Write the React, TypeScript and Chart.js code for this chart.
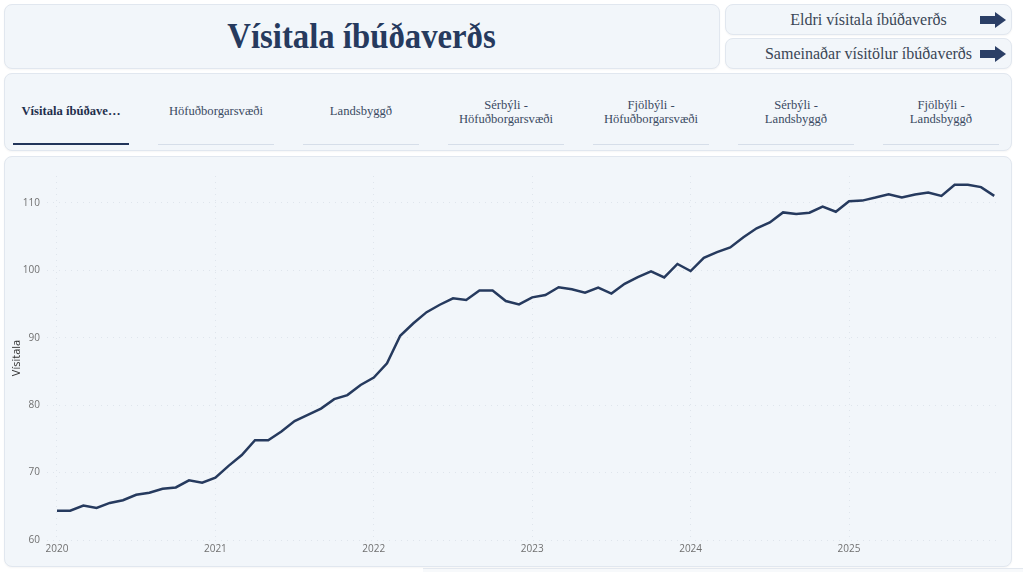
import React, { useEffect, useRef } from "react";
import { Chart, registerables } from "chart.js";

Chart.register(...registerables);

const startYear = 2020;
const values = [
  64.35, 64.35, 65.1, 64.75, 65.5, 65.9, 66.7, 67.0, 67.6, 67.8, 68.85, 68.5,
  69.25, 71.0, 72.6, 74.8, 74.8, 76.1, 77.65, 78.55, 79.5, 80.9, 81.5, 83.0,
  84.1, 86.2, 90.3, 92.15, 93.8, 94.9, 95.85, 95.6, 97.0, 97.0, 95.45, 94.95,
  96.0, 96.35, 97.5, 97.2, 96.7, 97.45, 96.55, 98.0, 99.0, 99.85, 98.95, 100.95,
  99.9, 101.85, 102.7, 103.4, 104.9, 106.25, 107.1, 108.6, 108.35, 108.55, 109.45, 108.7,
  110.25, 110.35, 110.8, 111.3, 110.8, 111.25, 111.55, 111.05, 112.7, 112.7, 112.35, 111.05,
];
const xTickYears = [2020, 2021, 2022, 2023, 2024, 2025];
const yTickValues = [60, 70, 80, 90, 100, 110];
const yAxisTitle = "Vísitala";
const pageTitle = "Vísitala íbúðaverðs";
const buttons = ["Eldri vísitala íbúðaverðs", "Sameinaðar vísitölur íbúðaverðs"];
const tabs = [
  ["Vísitala íbúðave…"],
  ["Höfuðborgarsvæði"],
  ["Landsbyggð"],
  ["Sérbýli -", "Höfuðborgarsvæði"],
  ["Fjölbýli -", "Höfuðborgarsvæði"],
  ["Sérbýli -", "Landsbyggð"],
  ["Fjölbýli -", "Landsbyggð"],
];

const NAVY = "#263a5e";
const PANEL_BG = "#f2f6fa";
const PANEL_BORDER = "#e1e7ef";
const SERIF = "'Liberation Serif', 'Times New Roman', serif";

const panel: React.CSSProperties = {
  position: "absolute",
  background: PANEL_BG,
  border: `1px solid ${PANEL_BORDER}`,
  borderRadius: 8,
  boxSizing: "border-box",
  boxShadow: "0 1px 2px rgba(0,0,0,0.04)",
};

function Arrow() {
  return (
    <svg width="26" height="16" viewBox="0 0 26 16" style={{ position: "absolute", right: 5, top: "50%", marginTop: -8 }}>
      <path d="M0 4 H15 V0 L26 8 L15 16 V12 H0 Z" fill="#2b3f66" />
    </svg>
  );
}

function LineChart() {
  const ref = useRef<HTMLCanvasElement | null>(null);
  useEffect(() => {
    if (!ref.current) return;
    const points = values.map((v, i) => ({ x: startYear + i / 12, y: v }));
    const gridColor = "rgba(195,204,216,0.4)";
    const chart = new Chart(ref.current, {
      type: "line",
      data: {
        datasets: [
          {
            data: points,
            borderColor: NAVY,
            borderWidth: 2.5,
            pointRadius: 0,
            tension: 0,
            fill: false,
          },
        ],
      },
      options: {
        animation: false,
        responsive: true,
        maintainAspectRatio: false,
        layout: { padding: { top: 20, right: 11, bottom: 0, left: 0 } },
        plugins: { legend: { display: false }, tooltip: { enabled: false } },
        scales: {
          x: {
            type: "linear",
            min: 2019.937,
            max: 2025.953,
            afterBuildTicks: (s: any) => {
              s.ticks = xTickYears.map((v) => ({ value: v }));
            },
            afterFit: (s: any) => {
              s.height = 26;
            },
            ticks: {
              padding: 3,
              color: "#707070",
              font: { family: "'Open Sans'", size: 10 },
              maxRotation: 0,
              callback: (v: any) => String(v),
            },
            grid: { color: gridColor, drawTicks: false, lineWidth: 1 },
            border: { display: false, dash: [1, 5] },
          },
          y: {
            type: "linear",
            min: 60,
            max: 114,
            afterBuildTicks: (s: any) => {
              s.ticks = yTickValues.map((v) => ({ value: v }));
            },
            afterFit: (s: any) => {
              s.width = 43;
            },
            title: {
              display: true,
              text: yAxisTitle,
              color: "#333",
              font: { family: "'Open Sans'", size: 11 },
              padding: { top: 6, bottom: 0 },
            },
            ticks: {
              padding: 7,
              color: "#707070",
              font: { family: "'Open Sans'", size: 10 },
            },
            grid: { color: gridColor, drawTicks: false, lineWidth: 1 },
            border: { display: false, dash: [1, 5] },
          },
        },
      },
    });
    return () => chart.destroy();
  }, []);
  return <canvas ref={ref} />;
}

export default function App() {
  return (
    <div
      style={{
        position: "absolute",
        left: 0,
        top: 0,
        width: 1024,
        height: 572,
        overflow: "hidden",
        background: "#ffffff",
        fontFamily: SERIF,
      }}
    >
      {/* Title box */}
      <div style={{ ...panel, left: 4, top: 4, width: 716, height: 65, display: "flex", alignItems: "center", justifyContent: "center" }}>
        <div style={{ fontSize: 36, fontWeight: 700, color: NAVY, marginLeft: 0, marginTop: -2, transform: "scaleX(0.91)" }}>{pageTitle}</div>
      </div>

      {/* Buttons */}
      {buttons.map((b, i) => (
        <div
          key={b}
          style={{
            ...panel,
            left: 725,
            top: i === 0 ? 4 : 38,
            width: 287,
            height: 31,
            display: "flex",
            alignItems: "center",
            justifyContent: "center",
            color: "#3a4656",
            fontSize: 16,
          }}
        >
          <span>{b}</span>
          <Arrow />
        </div>
      ))}

      {/* Tabs */}
      <div style={{ ...panel, left: 4, top: 73, width: 1008, height: 78 }}>
        {tabs.map((t, i) => {
          const active = i === 0;
          const cx = 70 + i * 145 - 4;
          return (
            <div key={i} style={{ position: "absolute", left: cx - 58, top: 0, width: 116, height: 76 }}>
              <div
                style={{
                  position: "absolute",
                  left: -20,
                  right: -20,
                  top: t.length === 1 ? 30 : 24,
                  textAlign: "center",
                  fontSize: 12.6,
                  lineHeight: "14px",
                  fontWeight: active ? 700 : 400,
                  color: active ? "#1f2f4c" : "#3a4a62",
                }}
              >
                {t.map((l, j) => (
                  <div key={j}>{l}</div>
                ))}
              </div>
              <div
                style={{
                  position: "absolute",
                  left: 0,
                  right: 0,
                  top: active ? 69 : 70,
                  height: active ? 2 : 1,
                  background: active ? "#22355a" : "#d6dee9",
                }}
              />
            </div>
          );
        })}
      </div>

      {/* Chart panel */}
      <div style={{ ...panel, left: 4, top: 156, width: 1008, height: 411, overflow: "hidden" }}>
        <div style={{ position: "absolute", left: -1, top: -1, width: 1007, height: 410 }}>
          <LineChart />
        </div>
      </div>

      {/* hint of next row */}
      <div style={{ position: "absolute", left: 423, top: 568, width: 600, height: 10, borderTop: "1px solid #e3e8ef", background: "#f7f9fb" }} />
    </div>
  );
}
